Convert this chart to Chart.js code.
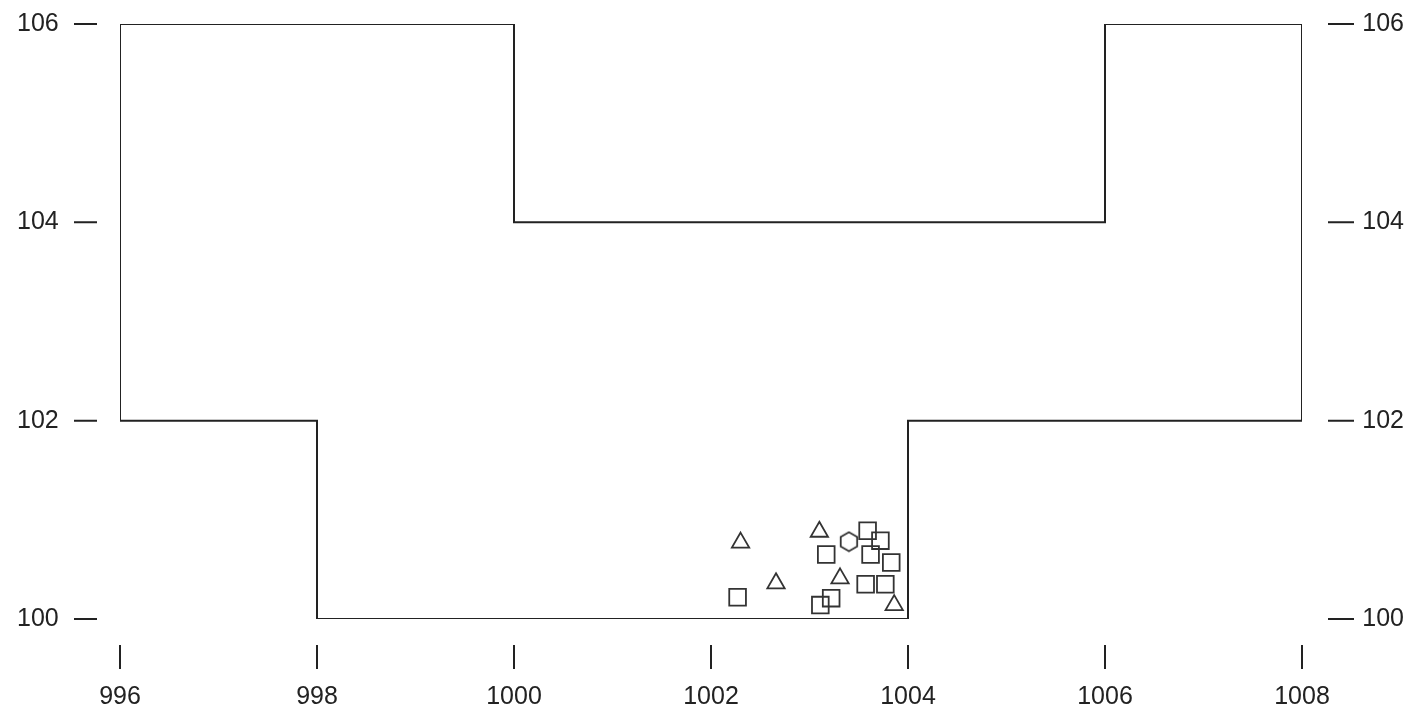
<!doctype html>
<html lang="en">
  <head>
    <meta charset="utf-8" />
    <title>Outline plot</title>
    <style>
      html, body { margin: 0; padding: 0; background: #fff; }
      .chartBox { width: 1409px; height: 711px; }
    </style>
  </head>
  <body>
    <div class="chartBox">
      <canvas id="myChart"></canvas>
    </div>
    <script src="https://cdn.jsdelivr.net/npm/chart.js/dist/chart.umd.min.js"></script>
    <script>
      // axis ticks
      const xTicks = [996, 998, 1000, 1002, 1004, 1006, 1008];
      const yTicks = [100, 102, 104, 106];

      // outline of the region
      const outlineX = [996, 996, 998, 998, 1004, 1004, 1008, 1008, 1006, 1006, 1000, 1000, 996];
      const outlineY = [106, 102, 102, 100, 100, 102, 102, 106, 106, 104, 104, 106, 106];

      // markers
      const triX = [1002.3, 1002.66, 1003.1, 1003.31, 1003.86];
      const triY = [100.77, 100.36, 100.88, 100.41, 100.14];
      const sqX = [1002.27, 1003.17, 1003.59, 1003.72, 1003.62, 1003.83, 1003.57, 1003.77, 1003.22, 1003.11];
      const sqY = [100.22, 100.65, 100.89, 100.79, 100.65, 100.57, 100.35, 100.35, 100.21, 100.14];
      const hexX = [1003.4];
      const hexY = [100.78];

      const toPts = (xs, ys) => xs.map((x, i) => ({ x: x, y: ys[i] }));

      // hexagon marker image
      const hex = document.createElement("canvas");
      hex.width = 22;
      hex.height = 22;
      const hctx = hex.getContext("2d");
      hctx.strokeStyle = "#333";
      hctx.lineWidth = 1.8;
      hctx.beginPath();
      for (let i = 0; i < 6; i++) {
        const a = Math.PI / 6 + (i * Math.PI) / 3;
        const px = 11 + 9.5 * Math.cos(a);
        const py = 11 + 9.5 * Math.sin(a);
        if (i === 0) hctx.moveTo(px, py);
        else hctx.lineTo(px, py);
      }
      hctx.closePath();
      hctx.stroke();

      const ink = "#222";
      const font = { family: "Liberation Sans", size: 25 };
      const plain = (v) => String(v);

      const tickMarks = {
        id: "tickMarks",
        afterDraw(chart) {
          const { ctx, scales: { x, y } } = chart;
          ctx.save();
          ctx.strokeStyle = ink;
          ctx.lineWidth = 2;
          ctx.beginPath();
          yTicks.forEach((v) => {
            const py = y.getPixelForValue(v);
            ctx.moveTo(74, py);
            ctx.lineTo(97, py);
            ctx.moveTo(1328, py);
            ctx.lineTo(1354, py);
          });
          xTicks.forEach((v) => {
            const px = x.getPixelForValue(v);
            ctx.moveTo(px, 645);
            ctx.lineTo(px, 669);
          });
          ctx.stroke();
          ctx.restore();
        },
      };

      const config = {
        type: "scatter",
        data: {
          datasets: [
            {
              data: toPts(outlineX, outlineY),
              showLine: true,
              borderColor: ink,
              borderWidth: 2,
              pointRadius: 0,
            },
            {
              data: toPts(triX, triY),
              pointStyle: "triangle",
              pointRadius: 10,
              borderColor: "#333",
              backgroundColor: "rgba(0,0,0,0)",
              borderWidth: 1.8,
            },
            {
              data: toPts(sqX, sqY),
              pointStyle: "rect",
              pointRadius: 11.8,
              borderColor: "#333",
              backgroundColor: "rgba(0,0,0,0)",
              borderWidth: 1.8,
            },
            {
              data: toPts(hexX, hexY),
              pointStyle: hex,
              pointRadius: 11,
            },
          ],
        },
        options: {
          responsive: true,
          maintainAspectRatio: false,
          animation: false,
          layout: { padding: { top: 24, left: 17, right: 5, bottom: 0 } },
          scales: {
            x: {
              type: "linear",
              min: 996,
              max: 1008,
              afterBuildTicks: (s) => { s.ticks = xTicks.map((v) => ({ value: v })); },
              afterFit: (s) => { s.height = 92; },
              grid: { display: false, drawTicks: false },
              border: { display: false },
              ticks: { color: ink, font: font, padding: 63, maxRotation: 0, callback: plain },
            },
            y: {
              type: "linear",
              min: 100,
              max: 106,
              afterBuildTicks: (s) => { s.ticks = yTicks.map((v) => ({ value: v })); },
              afterFit: (s) => { s.width = 103; },
              grid: { display: false, drawTicks: false },
              border: { display: false },
              ticks: { color: ink, font: font, padding: 0, crossAlign: "far", callback: plain },
            },
            y2: {
              type: "linear",
              position: "right",
              min: 100,
              max: 106,
              afterBuildTicks: (s) => { s.ticks = yTicks.map((v) => ({ value: v })); },
              afterFit: (s) => { s.width = 102; },
              grid: { display: false, drawTicks: false },
              border: { display: false },
              ticks: { color: ink, font: font, padding: 0, crossAlign: "far", callback: plain },
            },
          },
          plugins: {
            legend: { display: false },
            tooltip: { enabled: false },
          },
        },
        plugins: [tickMarks],
      };

      const myChart = new Chart(document.getElementById("myChart"), config);
    </script>
  </body>
</html>
